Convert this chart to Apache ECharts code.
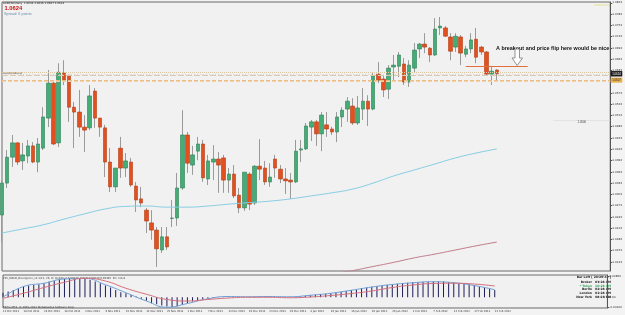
<!DOCTYPE html>
<html>
<head>
<meta charset="utf-8">
<script src="https://cdn.jsdelivr.net/npm/echarts@6.0.0/dist/echarts.min.js"></script>
<style>
html, body { margin: 0; padding: 0; background: #f3f3f3; overflow: hidden; }
#chart1 { width: 625px; height: 315px; }
</style>
</head>
<body>
<div id="chart1"></div>
<script>
// AUDCAD daily, 12 Oct 2011 .. 23 Feb 2012
var opens = [1.0248,1.0333,1.0402,1.0440,1.0392,1.0405,1.0432,1.0389,1.0426,1.0506,
  1.0599,1.0440,1.0626,1.0620,1.0535,1.0522,1.0482,1.0480,1.0578,1.0506,
  1.0480,1.0389,1.0323,1.0426,1.0373,1.0389,1.0325,1.0291,1.0261,1.0227,
  1.0208,1.0155,1.0190,1.0239,1.0240,1.0320,1.0461,1.0381,1.0418,1.0437,
  1.0344,1.0389,1.0397,1.0400,1.0341,1.0357,1.0301,1.0267,1.0357,1.0280,
  1.0378,1.0373,1.0336,1.0397,1.0370,1.0344,1.0341,1.0336,1.0421,1.0424,
  1.0482,1.0496,1.0464,1.0488,1.0477,1.0469,1.0509,1.0530,1.0538,1.0493,
  1.0530,1.0551,1.0530,1.0623,1.0610,1.0583,1.0642,1.0644,1.0650,1.0602,
  1.0639,1.0690,1.0703,1.0692,1.0674,1.0746,1.0746,1.0722,1.0695,1.0722,
  1.0676,1.0690,1.0716,1.0695,1.0682,1.0623,1.0634];
var closes = [1.0333,1.0402,1.0440,1.0389,1.0408,1.0432,1.0389,1.0437,1.0509,1.0599,
  1.0437,1.0628,1.0607,1.0535,1.0522,1.0482,1.0474,1.0565,1.0506,1.0482,
  1.0389,1.0323,1.0373,1.0373,1.0392,1.0328,1.0288,1.0280,1.0232,1.0208,
  1.0158,1.0190,1.0163,1.0240,1.0320,1.0461,1.0386,1.0408,1.0437,1.0347,
  1.0392,1.0397,1.0381,1.0341,1.0357,1.0299,1.0267,1.0362,1.0277,1.0378,
  1.0370,1.0336,1.0349,1.0373,1.0344,1.0339,1.0336,1.0418,1.0424,1.0485,
  1.0496,1.0464,1.0514,1.0477,1.0469,1.0509,1.0527,1.0551,1.0493,1.0533,
  1.0551,1.0530,1.0618,1.0607,1.0581,1.0639,1.0647,1.0674,1.0602,1.0647,
  1.0687,1.0703,1.0695,1.0674,1.0743,1.0751,1.0724,1.0684,1.0724,1.0679,
  1.0690,1.0714,1.0668,1.0682,1.0623,1.0631,1.0624];
var lows = [1.0176,1.0320,1.0376,1.0381,1.0368,1.0386,1.0386,1.0362,1.0421,1.0482,
  1.0434,1.0429,1.0594,1.0496,1.0426,1.0456,1.0416,1.0474,1.0480,1.0456,
  1.0349,1.0309,1.0309,1.0347,1.0349,1.0323,1.0256,1.0269,1.0200,1.0182,
  1.0110,1.0147,1.0155,1.0216,1.0219,1.0315,1.0360,1.0355,1.0394,1.0336,
  1.0328,1.0341,1.0307,1.0307,1.0307,1.0293,1.0253,1.0259,1.0261,1.0275,
  1.0341,1.0328,1.0323,1.0347,1.0333,1.0304,1.0291,1.0333,1.0389,1.0421,
  1.0445,1.0432,1.0418,1.0456,1.0461,1.0442,1.0482,1.0496,1.0488,1.0488,
  1.0501,1.0485,1.0527,1.0599,1.0562,1.0557,1.0607,1.0615,1.0594,1.0589,
  1.0626,1.0666,1.0679,1.0655,1.0671,1.0727,1.0722,1.0660,1.0682,1.0647,
  1.0668,1.0679,1.0652,1.0674,1.0620,1.0594,1.0607];
var highs = [1.0341,1.0421,1.0461,1.0442,1.0440,1.0448,1.0442,1.0453,1.0535,1.0634,
  1.0607,1.0652,1.0660,1.0620,1.0549,1.0581,1.0514,1.0594,1.0586,1.0506,
  1.0488,1.0426,1.0373,1.0456,1.0413,1.0400,1.0336,1.0323,1.0267,1.0261,
  1.0216,1.0216,1.0216,1.0288,1.0360,1.0527,1.0469,1.0432,1.0456,1.0448,
  1.0408,1.0434,1.0416,1.0408,1.0373,1.0381,1.0320,1.0362,1.0362,1.0381,
  1.0450,1.0392,1.0386,1.0408,1.0381,1.0373,1.0360,1.0448,1.0448,1.0493,
  1.0501,1.0501,1.0522,1.0522,1.0483,1.0522,1.0535,1.0562,1.0559,1.0565,
  1.0586,1.0567,1.0626,1.0655,1.0620,1.0647,1.0674,1.0682,1.0666,1.0660,
  1.0706,1.0706,1.0732,1.0695,1.0772,1.0775,1.0751,1.0732,1.0732,1.0727,
  1.0698,1.0732,1.0746,1.0698,1.0684,1.0642,1.0636];

// moving averages, read every 4th bar
var maBars = [0,4,8,12,16,20,24,28,32,36,40,44,48,52,56,60,64,68,72,76,80,84,88,92,96];
var maBlue = [1.0200,1.0211,1.0222,1.0237,1.0251,1.0264,1.0271,1.0272,1.0269,1.0269,1.0272,1.0277,1.0281,
  1.0285,1.0291,1.0299,1.0307,1.0317,1.0333,1.0352,1.0368,1.0384,1.0400,1.0413,1.0424];
var maRedBars = [66,68,72,76,80,84,88,92,96];
var maRed = [1.0096,1.0100,1.0111,1.0122,1.0134,1.0144,1.0155,1.0166,1.0176];

// MACD pane
var macdHist = [0.0018,0.0023,0.0029,0.0036,0.0043,0.0047,0.0049,0.0052,0.0056,0.0063,
  0.0065,0.0071,0.0073,0.0076,0.0076,0.0073,0.0073,0.0069,0.0063,0.0056,
  0.0047,0.0039,0.0029,0.0020,0.0016,0.0009,0.0003,-0.0006,-0.0014,-0.0024,
  -0.0028,-0.0033,-0.0037,-0.0039,-0.0036,-0.0031,-0.0024,-0.0017,-0.0015,-0.0009,
  -0.0005,-0.0003,-0.0001,0.0001,0.0002,0.0003,0.0002,0.0001,0.0001,0.0002,
  0.0003,0.0003,0.0002,0.0002,0.0001,0.0001,0.0000,0.0002,0.0004,0.0006,
  0.0008,0.0010,0.0012,0.0014,0.0016,0.0019,0.0022,0.0025,0.0029,0.0032,
  0.0036,0.0039,0.0042,0.0045,0.0047,0.0050,0.0052,0.0054,0.0056,0.0058,
  0.0060,0.0061,0.0062,0.0063,0.0064,0.0064,0.0063,0.0061,0.0059,0.0057,
  0.0055,0.0052,0.0049,0.0045,0.0040,0.0035,0.0029];
var macdBlue = [0.0000,0.0043,0.0056,0.0073,0.0075,0.0050,0.0018,-0.0015,-0.0040,-0.0025,-0.0006,0.0003,0.0002,
  0.0003,0.0002,0.0008,0.0016,0.0028,0.0041,0.0051,0.0058,0.0062,0.0058,0.0047,0.0030];
var macdRed = [-0.0004,0.0016,0.0039,0.0060,0.0076,0.0065,0.0036,0.0012,-0.0009,-0.0015,-0.0009,-0.0003,0.0000,
  0.0000,-0.0002,0.0001,0.0007,0.0015,0.0025,0.0039,0.0049,0.0055,0.0056,0.0053,0.0045];

// price levels drawn across the chart
var bidPrice = 1.0624;
var levelLines = [1.0627, 1.0619, 1.0603];
var dayLow = 1.0607;
var breakLevel = 1.0644;
var textLevel = 1.0500;

var priceTicks = [1.0813,1.0783,1.0753,1.0723,1.0693,1.0663,1.0633,1.0603,1.0573,1.0543,1.0513,1.0483,
  1.0453,1.0423,1.0393,1.0363,1.0333,1.0303,1.0273,1.0243,1.0213,1.0183,1.0153,1.0123];
var macdTicks = [0.0085, 0, -0.0040];

var emptyBars = 22;
var monthNames = ['Jan','Feb','Mar','Apr','May','Jun','Jul','Aug','Sep','Oct','Nov','Dec'];

// trading days (Mon-Fri) from the first bar, then empty slots for the chart shift
var dates = [];
var d = new Date(2011, 9, 12);
while (dates.length < opens.length) {
  var wd = d.getDay();
  if (wd !== 0 && wd !== 6) {
    dates.push(d.getDate() + ' ' + monthNames[d.getMonth()] + ' ' + d.getFullYear());
  }
  d.setDate(d.getDate() + 1);
}
for (var k = 0; k < emptyBars; k++) dates.push('shift' + k);
var lastIdx = dates.length - 1;

var wickData = [];
var bodyData = [];
for (var i = 0; i < opens.length; i++) {
  wickData.push([opens[i], closes[i], lows[i], highs[i]]);
  bodyData.push([opens[i], closes[i], Math.min(opens[i], closes[i]), Math.max(opens[i], closes[i])]);
}
function pairs(idx, vals) {
  return idx.map(function (x, j) { return [x, vals[j]]; });
}
function level(v, style, label) {
  return [
    { coord: [0, v], lineStyle: style, label: label || { show: false } },
    { coord: [lastIdx, v] }
  ];
}

var tiny = { fontSize: 2.8, color: '#333', fontFamily: 'DejaVu Sans' };

var chartDom = document.getElementById('chart1');
var myChart = echarts.init(chartDom);
var option;

option = {
  animation: false,
  backgroundColor: '#f3f3f3',
  grid: [
    { left: 2, right: 12, top: 2, height: 269, show: true, borderColor: '#6a6a6a', borderWidth: 1, backgroundColor: '#f1f1f1' },
    { left: 2, right: 12, top: 275, height: 33, show: true, borderColor: '#6a6a6a', borderWidth: 1, backgroundColor: '#f1f1f1' }
  ],
  xAxis: [
    { type: 'category', gridIndex: 0, data: dates, boundaryGap: false,
      axisLine: { show: false }, axisTick: { show: false }, axisLabel: { show: false }, splitLine: { show: false } },
    { type: 'category', gridIndex: 1, data: dates, boundaryGap: false,
      axisLine: { show: false }, axisTick: { show: false }, splitLine: { show: false },
      axisLabel: {
        fontSize: 2.6, color: '#333', fontFamily: 'DejaVu Sans', align: 'left', margin: 2,
        interval: function (idx) { return idx < opens.length && idx % 4 === 0; }
      } }
  ],
  yAxis: [
    { type: 'value', gridIndex: 0, position: 'right', min: 1.0099, max: 1.0815,
      splitLine: { show: false },
      axisLine: { show: true, lineStyle: { color: '#555' } },
      axisTick: { show: true, length: 2, lineStyle: { color: '#555' }, customValues: priceTicks },
      axisLabel: Object.assign({ margin: 2, customValues: priceTicks, formatter: function (v) { return v.toFixed(4); } }, tiny) },
    { type: 'value', gridIndex: 1, position: 'right', min: -0.0043, max: 0.0089,
      splitLine: { show: false },
      axisLine: { show: true, lineStyle: { color: '#555' } },
      axisTick: { show: true, length: 2, lineStyle: { color: '#555' }, customValues: macdTicks },
      axisLabel: Object.assign({ margin: 2, customValues: macdTicks, formatter: function (v) { return v === 0 ? '0.00' : v.toFixed(5); } }, tiny) }
  ],
  series: [
    {
      name: 'wicks', type: 'candlestick', xAxisIndex: 0, yAxisIndex: 0, barWidth: 1,
      data: wickData,
      itemStyle: { color: '#9a9a9a', color0: '#9a9a9a', borderColor: '#9a9a9a', borderColor0: '#9a9a9a', borderWidth: 1 },
      markLine: {
        silent: true, symbol: 'none', animation: false,
        data: [
          level(levelLines[0], { color: '#dcc7a2', type: [1, 1], width: 1 }),
          level(levelLines[1], { color: '#d6cab6', type: [6, 2], width: 1 }),
          level(levelLines[2], { color: '#f0d3ac', type: [4, 2], width: 1 }),
          level(dayLow, { color: '#ebbd80', type: [4, 2], width: 1 },
            { show: true, position: 'end', formatter: dayLow.toFixed(4), fontSize: 2.8, color: '#333', backgroundColor: '#e8b04a', padding: [1, 1.5], distance: 0.5 }),
          level(bidPrice, { color: '#d8c09a', type: [1, 2], width: 0.6 },
            { show: true, position: 'end', formatter: bidPrice.toFixed(4), fontSize: 2.8, color: '#fff', backgroundColor: '#1a1a1a', padding: [1.2, 1.5], distance: 0.5 }),
          [
            { coord: [89.6, breakLevel], lineStyle: { color: '#e0703a', type: 'solid', width: 1 }, label: { show: false } },
            { coord: [101.8, breakLevel] }
          ],
          [
            { coord: [106.8, textLevel], lineStyle: { color: '#d4d4d4', type: 'dotted', width: 1 },
              label: { show: true, position: 'insideMiddleBottom', formatter: textLevel.toFixed(4), fontSize: 2.8, color: '#444', distance: 0.5 } },
            { coord: [lastIdx, textLevel] }
          ]
        ]
      }
    },
    {
      name: 'bodies', type: 'candlestick', xAxisIndex: 0, yAxisIndex: 0, barWidth: 4,
      data: bodyData,
      itemStyle: { color: '#44ad76', color0: '#e3501f', borderColor: '#2f7d55', borderColor0: '#b23d14', borderWidth: 0.6 }
    },
    {
      name: 'MA blue', type: 'line', xAxisIndex: 0, yAxisIndex: 0, smooth: true, showSymbol: false,
      data: pairs(maBars, maBlue), lineStyle: { color: '#86cde3', width: 1 }
    },
    {
      name: 'MA red', type: 'line', xAxisIndex: 0, yAxisIndex: 0, smooth: true, showSymbol: false,
      data: pairs(maRedBars, maRed), lineStyle: { color: '#c07b8a', width: 1 }
    },
    {
      name: 'MACD hist', type: 'bar', xAxisIndex: 1, yAxisIndex: 1, barWidth: 1,
      data: macdHist, itemStyle: { color: '#1c1c5c' }
    },
    {
      name: 'MACD', type: 'line', xAxisIndex: 1, yAxisIndex: 1, smooth: true, showSymbol: false,
      data: pairs(maBars, macdBlue), lineStyle: { color: '#6f9fd6', width: 1 }
    },
    {
      name: 'Signal', type: 'line', xAxisIndex: 1, yAxisIndex: 1, smooth: true, showSymbol: false,
      data: pairs(maBars, macdRed), lineStyle: { color: '#d5707c', width: 1 }
    }
  ],
  graphic: [
    { type: 'text', left: 3, top: 2, style: { text: 'AUDCAD,Daily  1.0634 1.0636 1.0607 1.0624', fontSize: 2.7, fill: '#222', fontFamily: 'DejaVu Sans' } },
    { type: 'text', left: 4.5, top: 5, style: { text: '1.0624', fontSize: 5.8, fontWeight: 'bold', fill: '#cc1010', fontFamily: 'Liberation Sans' } },
    { type: 'text', left: 4, top: 11.5, style: { text: 'Spread: 6 points', fontSize: 3.8, fill: '#6e8db0', fontFamily: 'Liberation Sans' } },
    { type: 'text', right: 14, top: 3.5, style: { text: 'AUDCAD:D1', fontSize: 2.8, fill: '#e0dc70', fontFamily: 'DejaVu Sans' } },
    { type: 'text', left: 3, top: 71.5, style: { text: '#AUDCAD(bu)', fontSize: 2.7, fill: '#444', fontFamily: 'DejaVu Sans' } },
    { type: 'text', left: 496, top: 46, style: { text: 'A breakout and price flip here would be nice', fontSize: 5.4, fontWeight: 'bold', fill: '#111', fontFamily: 'Liberation Sans' } },
    { type: 'polygon', shape: { points: [[515, 49], [519.5, 49], [519.5, 58], [522.5, 58], [517.2, 65.5], [512, 58], [515, 58]] },
      style: { fill: '#ffffff', stroke: '#7a7a7a', lineWidth: 0.8 } },
    { type: 'text', left: 3, top: 277, style: { text: 'FX5_MACD_Divergence_v1.1(12, 26, 9)  Bull/Bear 0.00270  MACD 0.00230 0.00465  Pin. Clock', fontSize: 2.6, fill: '#333', fontFamily: 'DejaVu Sans' } },
    { type: 'text', left: 3, top: 305.5, style: { text: 'FXPro MT4, \u00a9 2001-2011 MetaQuotes Software Corp.', fontSize: 2.7, fill: '#333', fontFamily: 'DejaVu Sans' } },
    { type: 'text', right: 14, top: 276, style: { text: 'Bar Left [ 20:29:44 ]', fontSize: 3, fontWeight: 'bold', fill: '#222', align: 'right', fontFamily: 'DejaVu Sans' } },
    { type: 'text', right: 14, top: 280.3, style: { text: 'Broker   03:28 AM', fontSize: 3, fontWeight: 'bold', fill: '#222', align: 'right', fontFamily: 'DejaVu Sans' } },
    { type: 'text', right: 14, top: 284.3, style: { text: '* Tokyo   10:28 AM', fontSize: 3, fontWeight: 'bold', fill: '#3aa860', align: 'right', fontFamily: 'DejaVu Sans' } },
    { type: 'text', right: 14, top: 288, style: { text: 'Berlin   02:28 AM', fontSize: 3, fontWeight: 'bold', fill: '#222', align: 'right', fontFamily: 'DejaVu Sans' } },
    { type: 'text', right: 14, top: 292, style: { text: 'London   01:28 AM', fontSize: 3, fontWeight: 'bold', fill: '#222', align: 'right', fontFamily: 'DejaVu Sans' } },
    { type: 'text', right: 14, top: 295.7, style: { text: 'New York   08:28 PM', fontSize: 3, fontWeight: 'bold', fill: '#222', align: 'right', fontFamily: 'DejaVu Sans' } }
  ]
};

option && myChart.setOption(option);
window.onresize = function () {
  myChart.resize();
};
</script>
</body>
</html>
